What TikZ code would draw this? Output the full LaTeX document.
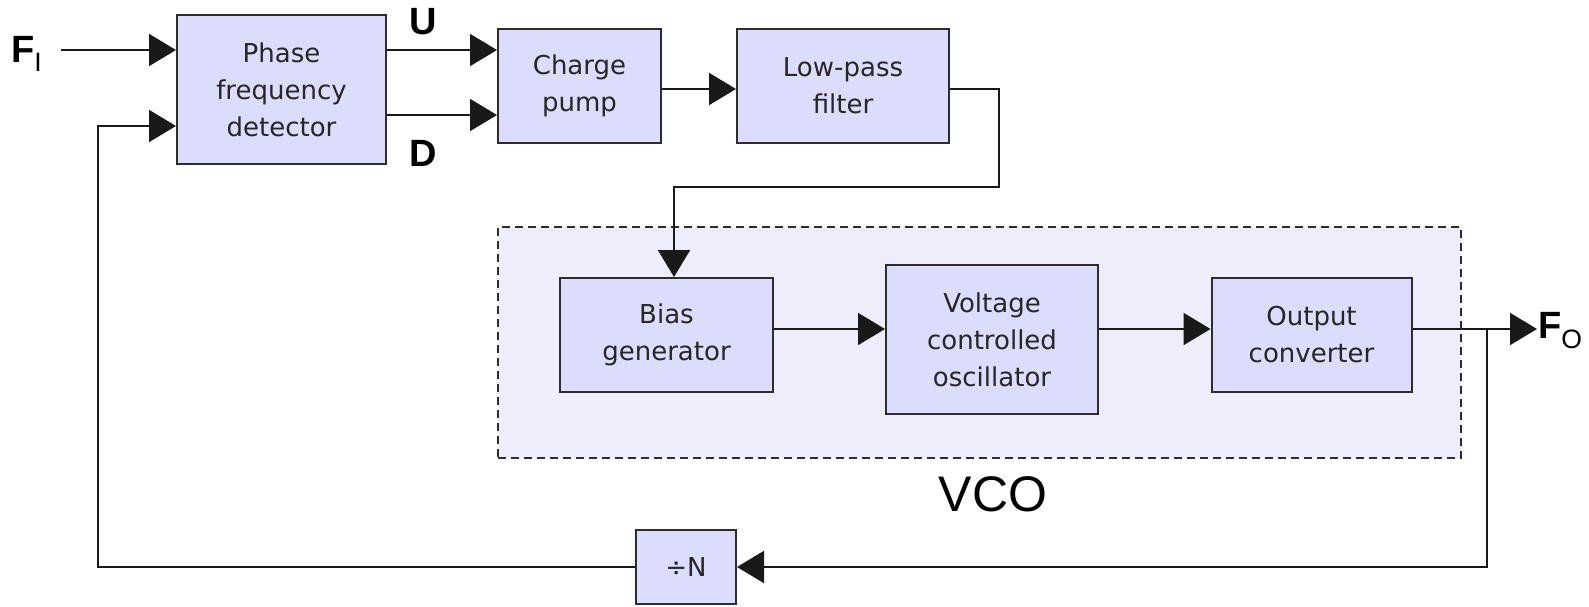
\documentclass[tikz,border=0pt]{standalone}
\usepackage{fontspec}
\setmainfont{Liberation Sans}
\newfontfamily\boxfont{DejaVu Sans}
\usetikzlibrary{arrows.meta,calc}
\definecolor{boxfill}{RGB}{220,220,252}
\definecolor{regfill}{RGB}{237,237,252}
\definecolor{edge}{RGB}{45,45,45}
\begin{document}
\begin{tikzpicture}[x=1pt,y=-1pt,
  blk/.style={draw=edge,fill=boxfill,line width=2pt,align=center,inner sep=0pt,
    font=\boxfont\fontsize{26}{37}\selectfont,text=black!85},
  wire/.style={line width=2pt,draw=black!90},
  arr/.style={wire,-{Triangle[length=27pt,width=32pt]}},
  lbl/.style={font=\bfseries\fontsize{38}{40}\selectfont,inner sep=1pt}]
\useasboundingbox (0,0) rectangle (1589,606);
\fill[white] (0,0) rectangle (1589,606);
% VCO region
\node[draw=edge,dash pattern=on 8pt off 5pt,line width=2pt,fill=regfill,
  minimum width=963pt,minimum height=231pt,inner sep=0pt] (reg) at (979.5,342.5) {};
\node[font=\fontsize{50}{52}\selectfont] (vcolbl) at (993,494) {VCO};
% blocks
\node[blk,minimum width=209pt,minimum height=149pt] (pfd) at (281.5,89.5) {Phase\\frequency\\detector};
\node[blk,minimum width=163pt,minimum height=114pt] (cp) at (579.5,85.5) {Charge\\pump};
\node[blk,minimum width=212pt,minimum height=114pt] (lpf) at (843,85.5) {Low-pass\\filter};
\node[blk,minimum width=213pt,minimum height=114pt] (bias) at (666.5,335) {Bias\\generator};
\node[blk,minimum width=212pt,minimum height=149pt] (vcob) at (992,339.5) {Voltage\\controlled\\oscillator};
\node[blk,minimum width=200pt,minimum height=114pt] (oc) at (1311.5,335) {Output\\converter};
\node[blk,minimum width=100pt,minimum height=74pt] (div) at (686,567) {÷N};
% labels
\node[lbl] (ulbl) at (423,22) {U};
\node[lbl] (dlbl) at (423,153) {D};
\node[lbl,anchor=west] (fin) at (10,54) {F\textsubscript{\mdseries I}};
\node[lbl,anchor=west] (fout) at (1537,331) {F\textsubscript{\mdseries O}};
% connectors
\coordinate (fstart) at (61,50);
\draw[arr] (fstart) -- (fstart -| pfd.west);
\draw[arr] (pfd.east |- 0,50) -- (cp.west |- 0,50);
\draw[arr] (pfd.east |- 0,115) -- (cp.west |- 0,115);
\draw[arr] (cp.east |- 0,89) -- (lpf.west |- 0,89);
\coordinate (c1) at (999,89);
\coordinate (c2) at (999,187);
\coordinate (c3) at (674,187);
\draw[arr] (lpf.east |- c1) -- (c1) -- (c2) -- (c3) -- (c3 |- bias.north);
\draw[arr] (bias.east |- 0,329) -- (vcob.west |- 0,329);
\draw[arr] (vcob.east |- 0,329) -- (oc.west |- 0,329);
\draw[arr] (oc.east |- 0,329) -- (fout.west |- 0,329);
\coordinate (br) at (1487,329);
\draw[arr] (br) |- (div.east);
\coordinate (fb) at (98,126);
\draw[arr] (div.west) -| (fb) -- (fb -| pfd.west);
\end{tikzpicture}
\end{document}
